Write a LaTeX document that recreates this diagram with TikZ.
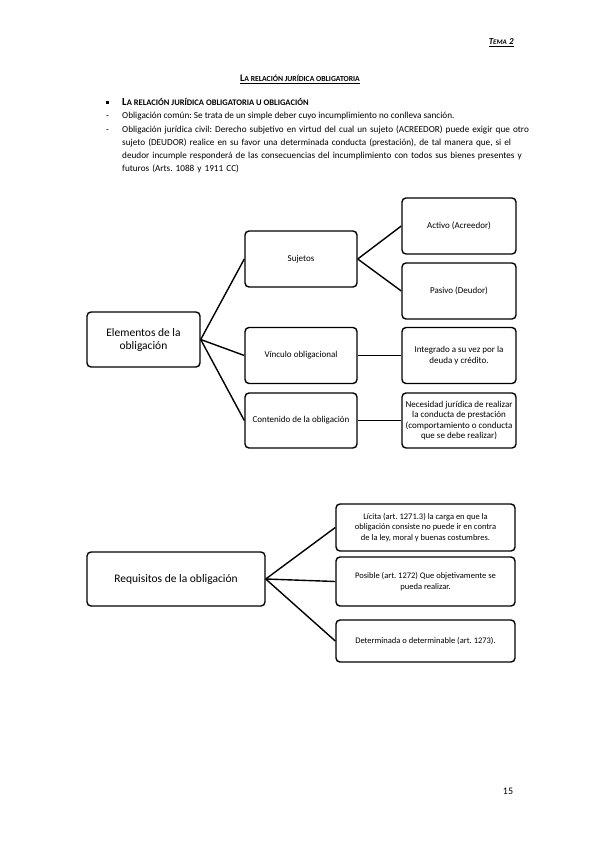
\documentclass[tikz,border=0pt]{standalone}
\usepackage{fontspec}
\setmainfont{Carlito}
\usepackage{tikz}
\usetikzlibrary{calc}

\frenchspacing
\newcommand{\fsc}[2]{{\fontsize{#1}{#1}\selectfont #2}}
\newcommand{\linea}[1]{\makebox[388pt][s]{#1}}

\begin{document}
\begin{tikzpicture}[x=1pt,y=-1pt]
	\path [use as bounding box] (0,0) rectangle (599,848);
	\tikzstyle{caja} = [draw, rounded corners=4pt, line width=1.4pt, align=center, inner sep=1pt]
	\tikzstyle{rama} = [line width=1.4pt]
	\tikzstyle{chica} = [font=\fontsize{9}{10.5}\selectfont]
	\tikzstyle{media} = [font=\fontsize{8.5}{10.5}\selectfont]
	\tikzstyle{texto} = [inner sep=0pt, font=\fontsize{9.2}{13}\selectfont\frenchspacing]
	% cabecera
	\node[inner sep=0pt, anchor=base east, font=\bfseries\itshape] (tema) at (514,45) {\fsc{9}{T}\fsc{7}{EMA} \fsc{9}{2}};
	\draw[line width=.5pt] ($(tema.south west)+(0,0.6)$) -- ($(tema.south east)+(0,0.6)$);
	\node[inner sep=0pt, anchor=base, font=\bfseries] (titulo) at (300,82) {\fsc{10}{L}\fsc{7.7}{A RELACIÓN JURÍDICA OBLIGATORIA}};
	\draw[line width=.5pt] ($(titulo.south west)+(0,0.6)$) -- ($(titulo.south east)+(0,0.6)$);
	\node[fill, inner sep=1.5pt] (vineta) at (107,103) {};
	\node[texto, anchor=base west, font=\bfseries] (apartado) at (122,106) {\fsc{10.8}{L}\fsc{8.5}{A RELACIÓN JURÍDICA OBLIGATORIA U OBLIGACIÓN}};
	\node[texto, anchor=base west] (guion1) at (106,119) {-};
	\node[texto, anchor=base west] (comun) at (122,119) {Obligación común: Se trata de un simple deber cuyo incumplimiento no conlleva sanción.};
	\node[texto, anchor=base west] (guion2) at (106,132) {-};
	\node[texto, anchor=base west, text width=388pt, align=left] (civil) at (122,132) {\linea{Obligación jurídica civil: Derecho subjetivo en virtud del cual un sujeto (ACREEDOR) puede exigir que otro}\\
		\linea{sujeto (DEUDOR) realice en su favor una determinada conducta (prestación), de tal manera que, si el}\\
		\linea{deudor incumple responderá de las consecuencias del incumplimiento con todos sus bienes presentes y}\\
		\mbox{futuros (Arts. 1088 y 1911 CC)}};
	% elementos
	\node[caja, minimum width=113pt, minimum height=55pt, font=\fontsize{11.5}{13}\selectfont] (elem) at (143.5,339.5) {Elementos de la\\obligación};
	\node[caja, chica, minimum width=112pt, minimum height=56pt] (suj) at (301,259) {Sujetos};
	\node[caja, chica, minimum width=112pt, minimum height=56pt] (vinc) at (301,355.5) {Vínculo obligacional};
	\node[caja, chica, minimum width=112pt, minimum height=55pt] (cont) at (301,420.5) {Contenido de la obligación};
	\node[caja, chica, minimum width=114pt, minimum height=56pt] (act) at (459,226) {Activo (Acreedor)};
	\node[caja, chica, minimum width=114pt, minimum height=56pt] (pas) at (459,291) {Pasivo (Deudor)};
	\node[caja, chica, minimum width=114pt, minimum height=56pt] (integ) at (459,355.5) {Integrado a su vez por la\\deuda y crédito.};
	\node[caja, chica, minimum width=114pt, minimum height=55pt] (nec) at (459,420.5) {Necesidad jurídica de realizar\\la conducta de prestación\\(comportamiento o conducta\\que se debe realizar)};
	\draw[rama] (elem.east) -- (suj.west);
	\draw[rama] (elem.east) -- (vinc.west);
	\draw[rama] (elem.east) -- (cont.west);
	\draw[rama] (suj.east) -- (act.west);
	\draw[rama] (suj.east) -- (pas.west);
	\draw[rama] (vinc.east) -- (integ.west);
	\draw[rama] (cont.east) -- (nec.west);
	% requisitos
	\node[caja, minimum width=178pt, minimum height=54pt, font=\fontsize{11.5}{13}\selectfont] (req) at (176,579) {Requisitos de la obligación};
	\node[caja, media, minimum width=179pt, minimum height=47pt] (lic) at (425.5,527.5) {Lícita (art. 1271.3) la carga en que la\\obligación consiste no puede ir en contra\\de la ley, moral y buenas costumbres.};
	\node[caja, media, minimum width=179pt, minimum height=49pt] (pos) at (425.5,581.5) {Posible (art. 1272) Que objetivamente se\\pueda realizar.};
	\node[caja, media, minimum width=179pt, minimum height=42pt] (det) at (425.5,641) {Determinada o determinable (art. 1273).};
	\draw[rama] (req.east) -- (lic.west);
	\draw[rama] (req.east) -- (pos.west);
	\draw[rama] (req.east) -- (det.west);
	% pie
	\node[inner sep=0pt, font=\fontsize{10}{12}\selectfont] (pagina) at (508,791) {15};
\end{tikzpicture}
\end{document}
